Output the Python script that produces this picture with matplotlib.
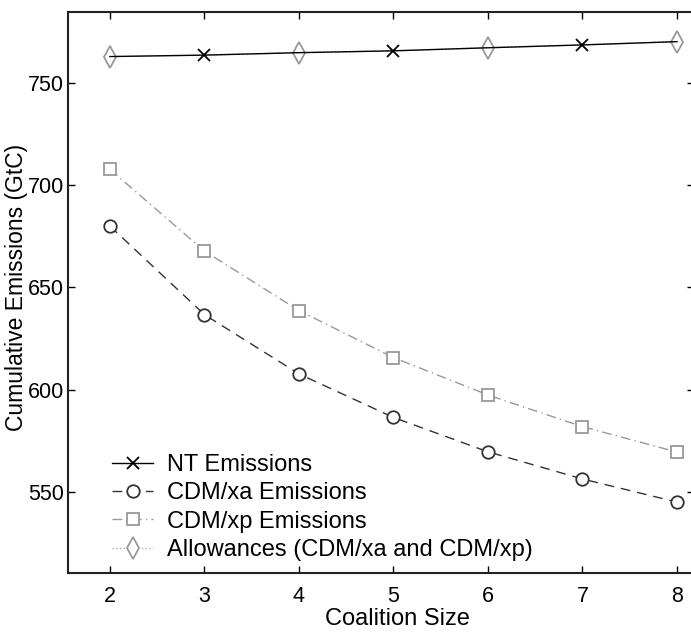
import matplotlib
matplotlib.use("Agg")
import matplotlib.pyplot as plt

plt.rcParams['font.family'] = ['Liberation Sans', 'DejaVu Sans']

coalition_size = [2, 3, 4, 5, 6, 7, 8]
nt_emissions = [763, 763.7, 764.9, 765.8, 767.3, 768.7, 770.3]
cdm_xa = [680, 636.7, 607.7, 586.4, 569.6, 556.3, 545]
cdm_xp = [707.8, 667.8, 638.7, 615.7, 597.4, 581.9, 569.5]
allowances = [763, 763.7, 764.9, 765.8, 767.3, 768.7, 770.3]
x_ticks = [2, 3, 4, 5, 6, 7, 8]
y_ticks = [550, 600, 650, 700, 750]

fig = plt.figure(figsize=(6.91, 6.34), dpi=100)
W, H = 691, 634
left, right, top, bottom = 68, 694, 12, 573
ax = fig.add_axes([left / W, 1 - bottom / H, (right - left) / W, (bottom - top) / H])

ax.plot(coalition_size, allowances, linestyle=':', color='#aaaaaa', lw=1.0,
        marker='d', markersize=11, markerfacecolor='white', markeredgecolor='#999999',
        markeredgewidth=1.3, markevery=[0, 2, 4, 6],
        label='Allowances (CDM/xa and CDM/xp)', zorder=2)
ax.plot(coalition_size, nt_emissions, linestyle='-', color='black', lw=1.0,
        marker='x', markersize=8.5, markeredgewidth=1.3, markevery=[1, 3, 5],
        label='NT Emissions', zorder=3)
ax.plot(coalition_size, cdm_xa, linestyle=(0, (7, 5)), color='#333333', lw=1.0,
        marker='o', markersize=9, markerfacecolor='white', markeredgecolor='#333333',
        markeredgewidth=1.3, label='CDM/xa Emissions', zorder=3)
ax.plot(coalition_size, cdm_xp, linestyle=(0, (7, 3, 1, 3)), color='#999999', lw=1.0,
        marker='s', markersize=9, markerfacecolor='white', markeredgecolor='#999999',
        markeredgewidth=1.3, label='CDM/xp Emissions', zorder=3)

# x = 2 sits at pixel 110, x = 8 at pixel 677
px_per_unit = (677 - 110) / 6
ax.set_xlim(2 - (110 - left) / px_per_unit, 8 + (right - 677) / px_per_unit)
ax.set_ylim(510.3, 784.8)
ax.set_xticks(x_ticks)
ax.set_yticks(y_ticks)
ax.tick_params(direction='in', top=True, right=True, labelsize=15.5, length=5, width=1)
ax.tick_params(axis='x', pad=9)
ax.tick_params(axis='y', pad=3)
for s in ax.spines.values():
    s.set_linewidth(1.5)
    s.set_color('#222222')

ax.set_xlabel('Coalition Size', fontsize=17)
ax.xaxis.set_label_coords((397 - left) / (right - left), -(619 - bottom) / (bottom - top),
                          transform=ax.transAxes)
ax.xaxis.label.set_va('center')
ax.set_ylabel('Cumulative Emissions (GtC)', fontsize=16.5)
ax.yaxis.set_label_coords(-(left - 17) / (right - left), (bottom - 287) / (bottom - top),
                          transform=ax.transAxes)
ax.yaxis.label.set_va('center')

handles, labels = ax.get_legend_handles_labels()
order = [1, 2, 3, 0]
leg = fig.legend([handles[i] for i in order], [labels[i] for i in order],
                 loc='lower left', frameon=False, fontsize=17,
                 handlelength=1.75, handletextpad=0.6, labelspacing=0.27,
                 borderpad=0, borderaxespad=0,
                 bbox_to_anchor=(112 / W, 1 - 561 / H))

fig.savefig('out.png', dpi=100)
